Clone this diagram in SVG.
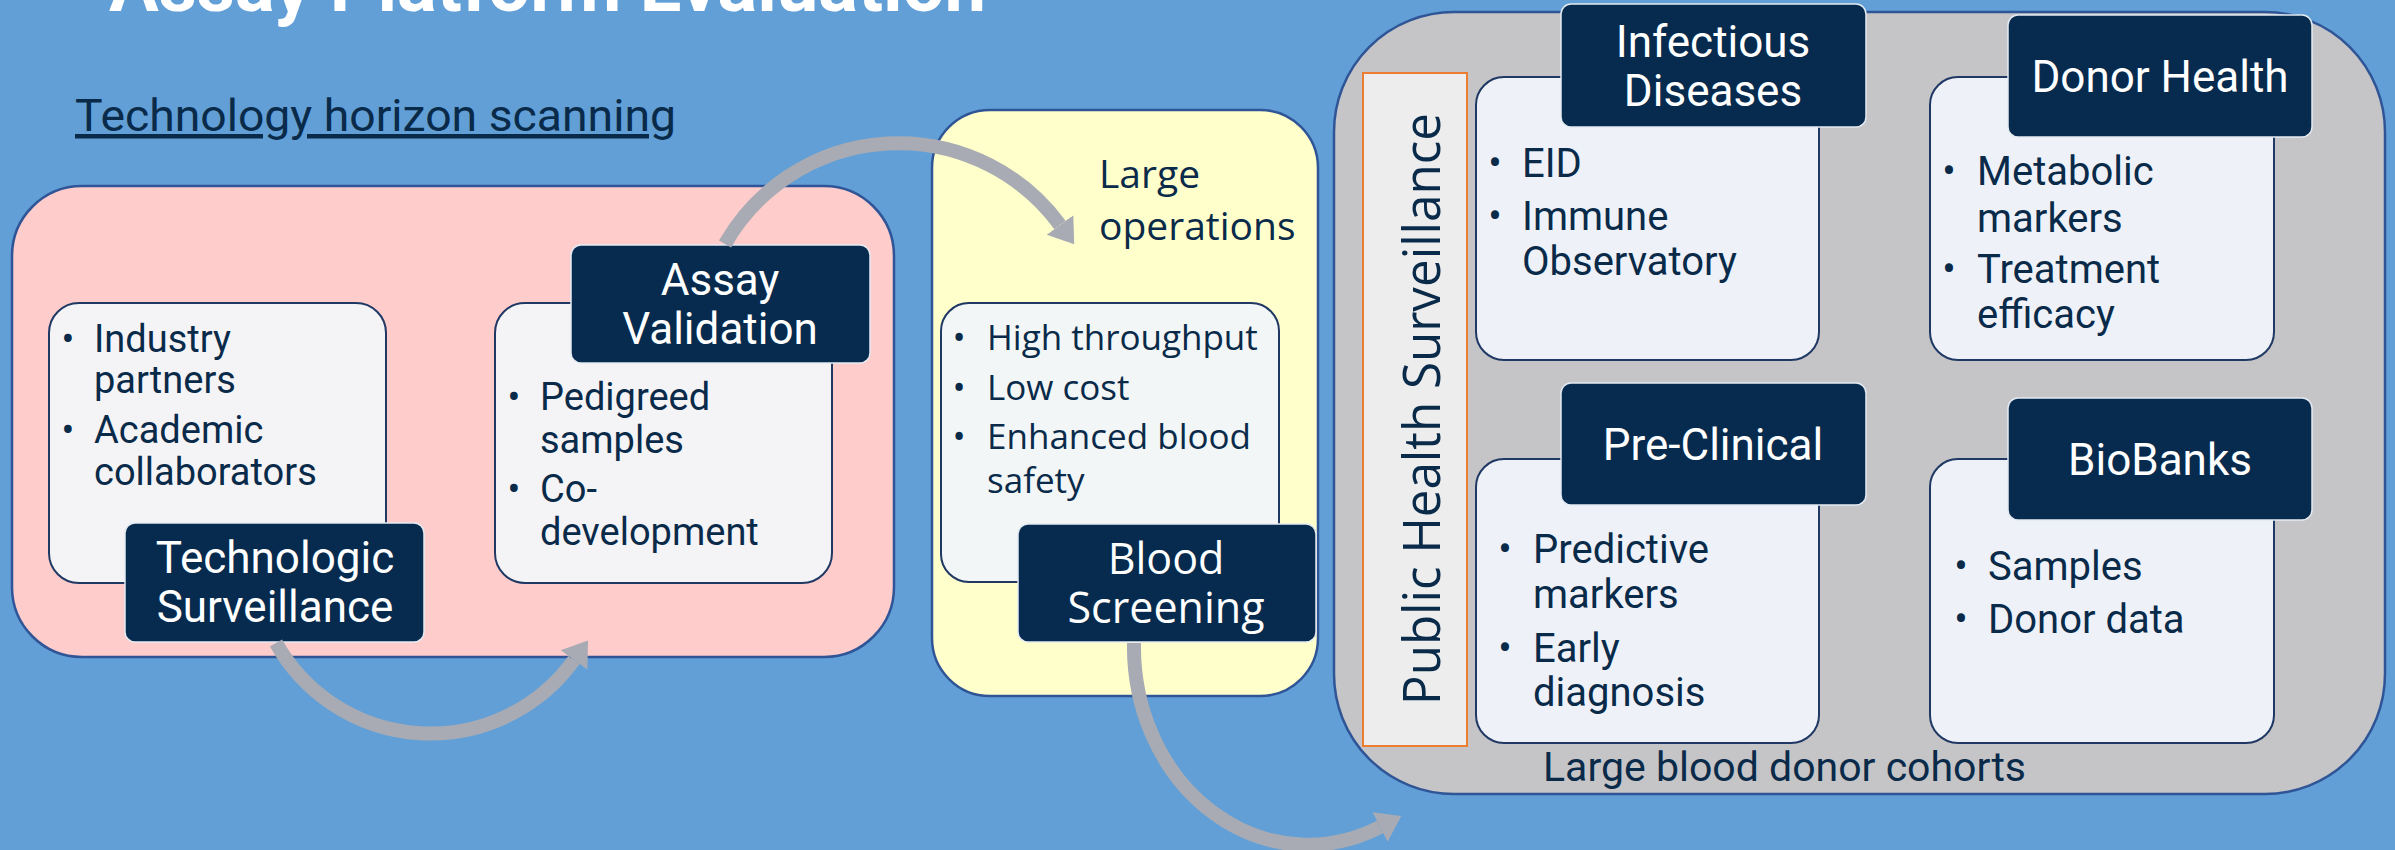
<svg xmlns="http://www.w3.org/2000/svg" width="2395" height="850" viewBox="0 0 2395 850">
  <defs>
    <style>
      .container { stroke: #2f5597; stroke-width: 2.5; }
      .content { stroke: #1f3864; stroke-width: 2; }
      .label { fill: #062b4e; stroke: #e3eaf2; stroke-width: 1.5; }
      .lt { fill: #ffffff; font-family: Roboto, "Liberation Sans", sans-serif; font-size: 44px; text-anchor: middle; }
      .lt2 { fill: #ffffff; font-family: "Open Sans", "DejaVu Sans", sans-serif; font-size: 43px; text-anchor: middle; }
      .bt { fill: #0a2a4a; font-family: Roboto, "Liberation Sans", sans-serif; font-size: 38px; }
      .bg2 { fill: #0a2a4a; font-family: Roboto, "Liberation Sans", sans-serif; font-size: 40px; }
      .bw { fill: #0a2a4a; font-family: "Open Sans", "DejaVu Sans", sans-serif; font-size: 35px; }
      .big { fill: #0a2a4a; font-family: "Open Sans", "DejaVu Sans", sans-serif; font-size: 39px; }
      .bul { text-anchor: middle; }
      .conn { fill: none; stroke: #a8abb3; stroke-width: 14; marker-end: url(#arrow); }
    </style>
    <marker id="arrow" markerUnits="userSpaceOnUse" markerWidth="26" markerHeight="36" viewBox="0 0 26 36" refX="0" refY="18" orient="auto">
      <path d="M0,1.5 L24,18 L0,34.5 Z" fill="#a8abb3"/>
    </marker>
  </defs>

  <rect x="0" y="0" width="2395" height="850" fill="#619fd6"/>

  <text id="title" x="109" y="11" font-family="Roboto, 'Liberation Sans', sans-serif" font-size="72" font-weight="bold" fill="#ffffff" textLength="877" lengthAdjust="spacingAndGlyphs">Assay Platform Evaluation</text>

  <text id="horizon-scanning" x="75" y="131" font-family="Roboto, 'Liberation Sans', sans-serif" font-size="45" fill="#0a2a4a" text-decoration="underline" textLength="601" lengthAdjust="spacingAndGlyphs">Technology horizon scanning</text>

  <!-- Pink panel -->
  <g id="pink-panel">
    <rect class="container" x="12" y="186" width="882" height="471" rx="70" fill="#ffcccc"/>
  </g>

  <g id="technologic-surveillance">
    <rect class="content" x="49" y="303" width="337" height="280" rx="30" fill="#f4f4f6"/>
    <text class="bt bul" x="68" y="352">•</text>
    <text class="bt" x="94" y="352">Industry</text>
    <text class="bt" x="94" y="393">partners</text>
    <text class="bt bul" x="68" y="443">•</text>
    <text class="bt" x="94" y="443">Academic</text>
    <text class="bt" x="94" y="485">collaborators</text>
    <rect class="label" x="125" y="523" width="299" height="119" rx="10"/>
    <text class="lt" x="275" y="573">Technologic</text>
    <text class="lt" x="275" y="622">Surveillance</text>
  </g>

  <g id="assay-validation">
    <rect class="content" x="495" y="303" width="337" height="280" rx="30" fill="#f4f4f6"/>
    <text class="bt bul" x="514" y="410">•</text>
    <text class="bt" x="540" y="410">Pedigreed</text>
    <text class="bt" x="540" y="453">samples</text>
    <text class="bt bul" x="514" y="502">•</text>
    <text class="bt" x="540" y="502">Co-</text>
    <text class="bt" x="540" y="545">development</text>
    <rect class="label" x="571" y="245" width="299" height="118" rx="10"/>
    <text class="lt" x="720" y="295">Assay</text>
    <text class="lt" x="720" y="344">Validation</text>
  </g>

  <!-- Yellow panel -->
  <g id="blood-screening">
    <rect class="container" x="932" y="110" width="386" height="586" rx="58" fill="#ffffcc"/>
    <text class="big" x="1099" y="188">Large</text>
    <text class="big" x="1099" y="240">operations</text>
    <rect class="content" x="941" y="303" width="338" height="279" rx="28" fill="#f2f6f6"/>
    <text class="bw bul" x="959" y="350">•</text>
    <text class="bw" x="987" y="350">High throughput</text>
    <text class="bw bul" x="959" y="400">•</text>
    <text class="bw" x="987" y="400">Low cost</text>
    <text class="bw bul" x="959" y="449">•</text>
    <text class="bw" x="987" y="449">Enhanced blood</text>
    <text class="bw" x="987" y="493">safety</text>
    <rect class="label" x="1018" y="524" width="298" height="118" rx="10"/>
    <text class="lt2" x="1166" y="574">Blood</text>
    <text class="lt2" x="1166" y="623">Screening</text>
  </g>

  <!-- Gray panel -->
  <g id="large-blood-donor-cohorts">
    <rect class="container" x="1334" y="12" width="1051" height="782" rx="120" fill="#c5c4c6"/>
    <text x="1543" y="781" font-family="Roboto, 'Liberation Sans', sans-serif" font-size="40" fill="#0a2a4a" textLength="483" lengthAdjust="spacingAndGlyphs">Large blood donor cohorts</text>
  </g>

  <g id="public-health-surveillance">
    <rect x="1363" y="73" width="104" height="673" fill="#ededed" stroke="#ed7d31" stroke-width="2"/>
    <text transform="translate(1440,705) rotate(-90)" x="0" y="0" font-family="'Open Sans', 'DejaVu Sans', sans-serif" font-size="52" fill="#0a2a4a" textLength="592" lengthAdjust="spacingAndGlyphs">Public Health Surveillance</text>
  </g>

  <g id="infectious-diseases">
    <rect class="content" x="1476" y="77" width="343" height="283" rx="28" fill="#eef2f8"/>
    <text class="bg2 bul" x="1495" y="177">•</text>
    <text class="bg2" x="1522" y="177">EID</text>
    <text class="bg2 bul" x="1495" y="230">•</text>
    <text class="bg2" x="1522" y="230">Immune</text>
    <text class="bg2" x="1522" y="275">Observatory</text>
    <rect class="label" x="1561" y="4" width="305" height="123" rx="10"/>
    <text class="lt" x="1713" y="57">Infectious</text>
    <text class="lt" x="1713" y="106">Diseases</text>
  </g>

  <g id="donor-health">
    <rect class="content" x="1930" y="77" width="344" height="283" rx="28" fill="#eef2f8"/>
    <text class="bg2 bul" x="1949" y="185">•</text>
    <text class="bg2" x="1977" y="185">Metabolic</text>
    <text class="bg2" x="1977" y="232">markers</text>
    <text class="bg2 bul" x="1949" y="283">•</text>
    <text class="bg2" x="1977" y="283">Treatment</text>
    <text class="bg2" x="1977" y="328">efficacy</text>
    <rect class="label" x="2008" y="15" width="304" height="122" rx="10"/>
    <text class="lt" x="2160" y="92">Donor Health</text>
  </g>

  <g id="pre-clinical">
    <rect class="content" x="1476" y="459" width="343" height="284" rx="28" fill="#eef2f8"/>
    <text class="bg2 bul" x="1505" y="563">•</text>
    <text class="bg2" x="1533" y="563">Predictive</text>
    <text class="bg2" x="1533" y="608">markers</text>
    <text class="bg2 bul" x="1505" y="662">•</text>
    <text class="bg2" x="1533" y="662">Early</text>
    <text class="bg2" x="1533" y="706">diagnosis</text>
    <rect class="label" x="1561" y="383" width="305" height="122" rx="10"/>
    <text class="lt" x="1713" y="460">Pre-Clinical</text>
  </g>

  <g id="biobanks">
    <rect class="content" x="1930" y="459" width="344" height="284" rx="28" fill="#eef2f8"/>
    <text class="bg2 bul" x="1961" y="580">•</text>
    <text class="bg2" x="1988" y="580">Samples</text>
    <text class="bg2 bul" x="1961" y="633">•</text>
    <text class="bg2" x="1988" y="633">Donor data</text>
    <rect class="label" x="2008" y="398" width="304" height="122" rx="10"/>
    <text class="lt" x="2160" y="475">BioBanks</text>
  </g>

  <!-- Connectors -->
  <g id="connectors">
    <path class="conn" d="M 276 643 A 177 177 0 0 0 574 660"/>
    <path class="conn" d="M 725 244 A 200 200 0 0 1 1060 225"/>
    <path class="conn" d="M 1134 643 A 174 198 0 0 0 1380 827"/>
  </g>
</svg>
